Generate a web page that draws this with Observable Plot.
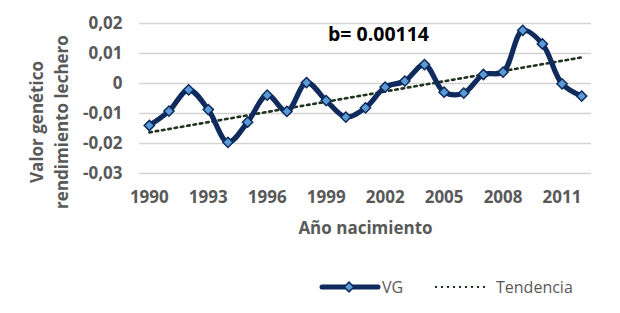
<!DOCTYPE html>
<html><head><meta charset="utf-8">
<script src="https://cdn.jsdelivr.net/npm/d3@7"></script>
<script src="https://cdn.jsdelivr.net/npm/@observablehq/plot@0.6"></script>
<style>
body{margin:0;background:#fff;font-family:"Open Sans",sans-serif;}
#chart{width:620px;height:313px;overflow:hidden;}
#chart svg{display:block;}
</style></head><body><div id="chart"></div>
<script>
const years = [1990,1991,1992,1993,1994,1995,1996,1997,1998,1999,2000,2001,2002,2003,2004,2005,2006,2007,2008,2009,2010,2011,2012];
const vg = [-0.0140,-0.0092,-0.0021,-0.0087,-0.0196,-0.0129,-0.0039,-0.0093,0.0003,-0.0057,-0.0112,-0.0081,-0.0012,0.0008,0.0063,-0.0029,-0.0032,0.0030,0.0038,0.0177,0.0132,-0.0001,-0.0042];
const trendYears = [1990, 2012];
const trendValues = [-0.0163, 0.0087];
const xTicks = [1990,1993,1996,1999,2002,2005,2008,2011];
const yTicks = [-0.03,-0.02,-0.01,0,0.01,0.02];
const yLabelLines = ["Valor genético", "rendimiento lechero"];
const xLabel = "Año nacimiento";
const annotationText = ["b= 0.00114"];
const annotationX = [2001.66];
const annotationY = [0.0163];
const legendLabels = ["VG", "Tendencia"];

const data = years.map((y,i)=>({year:y, value:vg[i]}));
const trend = trendYears.map((y,i)=>({year:y, value:trendValues[i]}));
const notes = annotationText.map((t,i)=>({text:t, x:annotationX[i], y:annotationY[i]}));

const navy = "#0f2a5c";
const gray = "#595959";
const trendColor = "#1f3320";
const fmtY = d => d === 0 ? "0" : d.toFixed(2).replace(".", ",");

const plot = Plot.plot({
  width: 620, height: 250,
  marginLeft: 139, marginRight: 29, marginTop: 23, marginBottom: 77,
  style: {fontFamily: "Open Sans", fontSize: "17px", color: gray, background: "#fff"},
  x: {type: "linear", domain: [1989.5, 2012.5]},
  y: {domain: [-0.03, 0.02]},
  marks: [
    Plot.gridY(yTicks, {stroke: "#d4d4d4", strokeOpacity: 1, strokeWidth: 1.6}),
    Plot.axisY(yTicks, {tickSize: 0, tickPadding: 17, tickFormat: fmtY, fontWeight: "bold", fontSize: 17, fill: gray, label: null}),
    Plot.axisX(xTicks, {tickSize: 0, tickPadding: 17, tickFormat: d => String(d), fontWeight: "bold", fontSize: 17, fill: gray, label: null}),
    Plot.text([xLabel], {frameAnchor: "bottom", dy: 60, fontWeight: "bold", fontSize: 17, fill: gray}),
    Plot.line(trend, {x: "year", y: "value", stroke: trendColor, strokeWidth: 2.6, strokeDasharray: "2.6 3.8"}),
    Plot.line(data, {x: "year", y: "value", stroke: navy, strokeWidth: 5.2, curve: "catmull-rom", strokeLinejoin: "round"}),
    Plot.dot(data, {x: "year", y: "value", symbol: "diamond2", r: 4.6, fill: "#5b9bd5", stroke: navy, strokeWidth: 1.5}),
    Plot.text(notes, {x: "x", y: "y", text: "text", fontWeight: "bold", fontSize: 19.5, fill: "#000"})
  ]
});
// rotated two-line y-axis title
const svg = d3.select(plot);
yLabelLines.forEach((t, i) => {
  svg.append("text")
    .attr("transform", `translate(${37 + i * 25},122) rotate(-90)`)
    .attr("text-anchor", "middle").attr("dy", "0.35em")
    .attr("font-family", "Open Sans").attr("font-size", 17).attr("font-weight", "bold")
    .attr("fill", gray).text(t);
});
const chart = document.getElementById("chart");
chart.appendChild(plot);

// legend below the chart
const legend = d3.create("svg").attr("width", 620).attr("height", 63).style("display","block");
const ly = 37;
legend.append("line").attr("x1", 322).attr("x2", 378).attr("y1", ly).attr("y2", ly)
  .attr("stroke", navy).attr("stroke-width", 5).attr("stroke-linecap", "round");
legend.append("path").attr("d", d3.symbol(d3.symbolDiamond2, 60)()).attr("transform", `translate(349,${ly})`)
  .attr("fill", "#5b9bd5").attr("stroke", navy).attr("stroke-width", 1.5);
legend.append("text").attr("x", 382).attr("y", ly).attr("dy", "0.35em").attr("fill", gray)
  .attr("font-family", "Open Sans").attr("font-size", 16).text(legendLabels[0]);
legend.append("line").attr("x1", 435).attr("x2", 488).attr("y1", ly).attr("y2", ly)
  .attr("stroke", trendColor).attr("stroke-width", 2).attr("stroke-dasharray", "2 4");
legend.append("text").attr("x", 496).attr("y", ly).attr("dy", "0.35em").attr("fill", gray)
  .attr("font-family", "Open Sans").attr("font-size", 16).text(legendLabels[1]);
chart.appendChild(legend.node());
</script>
</body></html>
